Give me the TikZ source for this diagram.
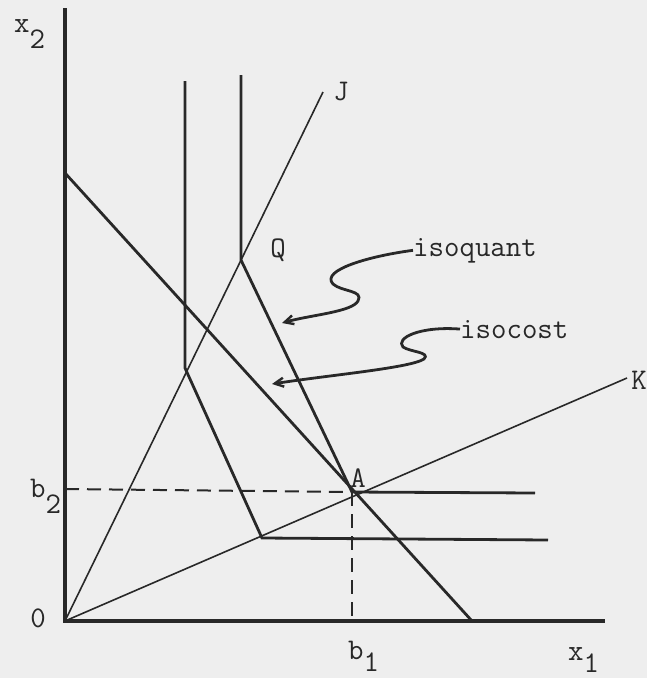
\documentclass[tikz,border=0pt]{standalone}
\usepackage{fontspec}
\usetikzlibrary{arrows.meta}
\definecolor{paper}{RGB}{238,238,238}
\definecolor{ink}{RGB}{40,40,40}
\begin{document}
\begin{tikzpicture}[x=1pt,y=-1pt,
  axis/.style={ink,line width=3.2pt},
  iso/.style={ink,line width=2.8pt},
  ray/.style={ink,line width=1.6pt},
  guide/.style={ink,line width=2pt,dash pattern=on 14pt off 8pt},
  pointer/.style={ink,line width=2.8pt,-{Straight Barb[length=9pt,width=9pt,line width=2.4pt]}},
  lab/.style={ink,font=\ttfamily\fontsize{30}{34}\selectfont,inner sep=0pt},
  sub/.style={lab,anchor=base west}]
\fill[paper] (0,0) rectangle (647,678);
\useasboundingbox (0,0) rectangle (647,678);
% key points
\coordinate (O) at (65,621);
\coordinate (Ytop) at (65,8);
\coordinate (Xend) at (605,621);
\coordinate (Jend) at (323,92);
\coordinate (Kend) at (627,378);
\coordinate (P1) at (185,81);
\coordinate (P2) at (185,368);
\coordinate (P3) at (262,538);
\coordinate (P4) at (548,540);
\coordinate (Q1) at (241,75);
\coordinate (Qc) at (241,260);
\coordinate (A) at (352,492);
\coordinate (Aend) at (535,493);
\coordinate (C1) at (65,173);
\coordinate (C2) at (472,621);
\coordinate (B2) at (65,489);
\coordinate (B1) at (352,621);
\coordinate (tipq) at (282,323);
\coordinate (tipc) at (272,384);
% axes
\draw[axis] (Ytop) -- (O) -- (Xend);
% rays
\draw[ray] (O) -- (Jend);
\draw[ray] (O) -- (Kend);
% isoquants
\draw[iso,line join=miter] (P1) -- (P2) -- (P3) -- (P4);
\draw[iso,line join=miter] (Q1) -- (Qc) -- (A) -- (Aend);
% isocost
\draw[iso] (C1) -- (C2);
% dashed guides
\draw[guide] (B2) -- (A);
\draw[guide] (A) -- (B1);
% labels
\node[sub] (x2) at (14,32) {x\raisebox{-0.55em}{2}};
\node[lab] (zero) at (38,618) {0};
\node[sub] (b2) at (30,497) {b\raisebox{-0.55em}{2}};
\node[sub] (b1) at (348,659) {b\raisebox{-0.42em}{1}};
\node[sub] (x1) at (568,660) {x\raisebox{-0.40em}{1}};
\node[lab] (J) at (341,92) {J};
\node[lab] (K) at (639,380) {K};
\node[lab] (Qlab) at (278,250) {Q};
\node[lab] (Alab) at (358,478) {A};
\node[lab,anchor=base west] (isoquant) at (413,256) {isoquant};
\node[lab,anchor=base west] (isocost) at (460,338) {isocost};
% curly pointers
\draw[pointer] (isoquant.west) .. controls (370,256) and (320,270) .. (333,284)
  .. controls (342,292) and (364,290) .. (358,301)
  .. controls (352,312) and (310,315) .. (tipq);
\draw[pointer] (isocost.west) .. controls (420,326) and (395,338) .. (403,347)
  .. controls (410,352) and (431,352) .. (424,359)
  .. controls (410,368) and (330,375) .. (tipc);
\end{tikzpicture}
\end{document}
